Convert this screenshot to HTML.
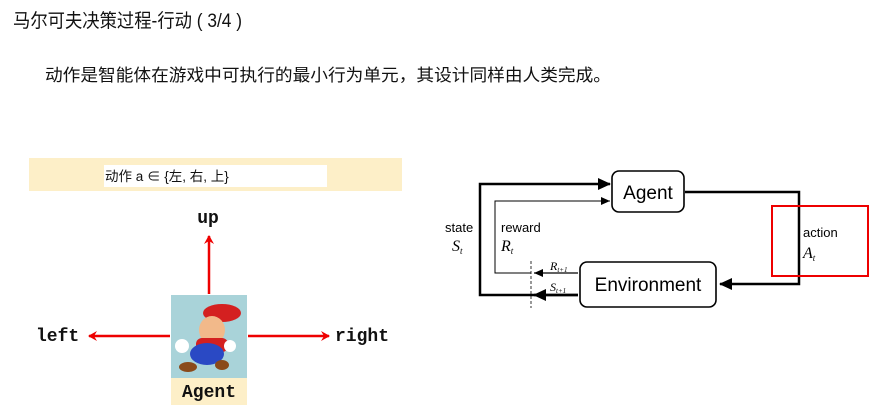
<!DOCTYPE html>
<html><head><meta charset="utf-8"><style>
html,body{margin:0;padding:0;background:#fff;width:884px;height:414px;overflow:hidden}
svg{display:block}
.cn{font-family:"Liberation Sans","Noto Sans CJK SC",sans-serif}
.mono{font-family:"Liberation Mono",monospace;font-weight:bold}
.s{font-family:"Liberation Sans",sans-serif}
.it{font-family:"Liberation Serif",serif;font-style:italic}
</style></head><body>
<svg width="884" height="414" viewBox="0 0 884 414" xmlns="http://www.w3.org/2000/svg">
<defs>
<marker id="ra" markerWidth="10" markerHeight="10" refX="8" refY="5" orient="auto" markerUnits="userSpaceOnUse"><path d="M0,0 L9,5 L0,10 L3,5 Z" fill="#e00"/></marker>
<marker id="ba" markerWidth="14" markerHeight="12" refX="12" refY="6" orient="auto" markerUnits="userSpaceOnUse"><path d="M0,0 L13,6 L0,12 Z" fill="#000"/></marker>
<marker id="bs" markerWidth="10" markerHeight="8" refX="9" refY="4" orient="auto" markerUnits="userSpaceOnUse"><path d="M0,0 L9,4 L0,8 Z" fill="#000"/></marker>
</defs>
<text x="13" y="27" class="cn" font-size="19" fill="#111" textLength="229" lengthAdjust="spacingAndGlyphs">马尔可夫决策过程-行动 ( 3/4 )</text>
<text x="45" y="81" class="cn" font-size="17" fill="#111" textLength="566" lengthAdjust="spacingAndGlyphs">动作是智能体在游戏中可执行的最小行为单元，其设计同样由人类完成。</text>

<rect x="29" y="158" width="373" height="33" fill="#fdefc8"/>
<rect x="104" y="165" width="223" height="22" fill="#fff"/>
<text x="105" y="181" class="cn" font-size="13.5" fill="#111">动作 a ∈ {左, 右, 上}</text>
<text x="208" y="223" class="mono" font-size="18" text-anchor="middle" fill="#111">up</text>
<line x1="209" y1="294" x2="209" y2="236" stroke="#e00" stroke-width="2.5" marker-end="url(#ra)"/>
<line x1="170" y1="336" x2="89" y2="336" stroke="#e00" stroke-width="2.5" marker-end="url(#ra)"/>
<line x1="248" y1="336" x2="329" y2="336" stroke="#e00" stroke-width="2.5" marker-end="url(#ra)"/>
<text x="36" y="341" class="mono" font-size="18" fill="#111">left</text>
<text x="335" y="341" class="mono" font-size="18" fill="#111">right</text>
<rect x="171" y="295" width="76" height="83" fill="#a9d3d9"/>
<ellipse cx="222" cy="313" rx="19" ry="9" fill="#d42020"/>
<ellipse cx="212" cy="330" rx="13" ry="14" fill="#f2b98a"/>
<rect x="196" y="338" width="32" height="14" rx="6" fill="#d42020"/>
<ellipse cx="207" cy="354" rx="17" ry="11" fill="#2a49c4"/>
<circle cx="182" cy="346" r="7" fill="#fff"/>
<circle cx="230" cy="346" r="6" fill="#fff"/>
<ellipse cx="188" cy="367" rx="9" ry="5" fill="#8a4a1a"/>
<ellipse cx="222" cy="365" rx="7" ry="5" fill="#8a4a1a"/>
<rect x="171" y="378" width="76" height="27" fill="#fdefc8"/>
<text x="209" y="397" class="mono" font-size="18" text-anchor="middle" fill="#111">Agent</text>

<rect x="612" y="171" width="72" height="41" rx="7" fill="#fff" stroke="#000" stroke-width="1.6"/>
<text x="648" y="199" class="s" font-size="19" text-anchor="middle" fill="#000">Agent</text>
<rect x="580" y="262" width="136" height="45" rx="7" fill="#fff" stroke="#000" stroke-width="1.6"/>
<text x="648" y="291" class="s" font-size="19" text-anchor="middle" fill="#000">Environment</text>
<polyline points="578,295 480,295 480,184 610,184" fill="none" stroke="#000" stroke-width="2.5" marker-end="url(#ba)"/>
<line x1="578" y1="295" x2="534" y2="295" stroke="#000" stroke-width="2.5" marker-end="url(#ba)"/>
<polyline points="531,273 495,273 495,201 610,201" fill="none" stroke="#000" stroke-width="1" marker-end="url(#bs)"/>
<line x1="578" y1="273" x2="534" y2="273" stroke="#000" stroke-width="1.3" marker-end="url(#bs)"/>
<line x1="531" y1="261" x2="531" y2="308" stroke="#000" stroke-width="0.8" stroke-dasharray="3,2"/>
<polyline points="685,192 799,192 799,284 720,284" fill="none" stroke="#000" stroke-width="2.5" marker-end="url(#ba)"/>
<rect x="772" y="206" width="96" height="70" fill="none" stroke="#e00" stroke-width="2"/>
<text x="445" y="232" class="s" font-size="13" fill="#000">state</text>
<text x="452" y="251" class="it" font-size="16" fill="#000">S<tspan font-size="9" dy="3">t</tspan></text>
<text x="501" y="232" class="s" font-size="13" fill="#000">reward</text>
<text x="501" y="251" class="it" font-size="16" fill="#000">R<tspan font-size="9" dy="3">t</tspan></text>
<text x="803" y="237" class="s" font-size="13" fill="#000">action</text>
<text x="803" y="258" class="it" font-size="16" fill="#000">A<tspan font-size="9" dy="3">t</tspan></text>
<text x="550" y="270" class="it" font-size="12" fill="#000">R<tspan font-size="7" dy="2">t+1</tspan></text>
<text x="550" y="291" class="it" font-size="12" fill="#000">S<tspan font-size="7" dy="2">t+1</tspan></text>
</svg>
</body></html>
